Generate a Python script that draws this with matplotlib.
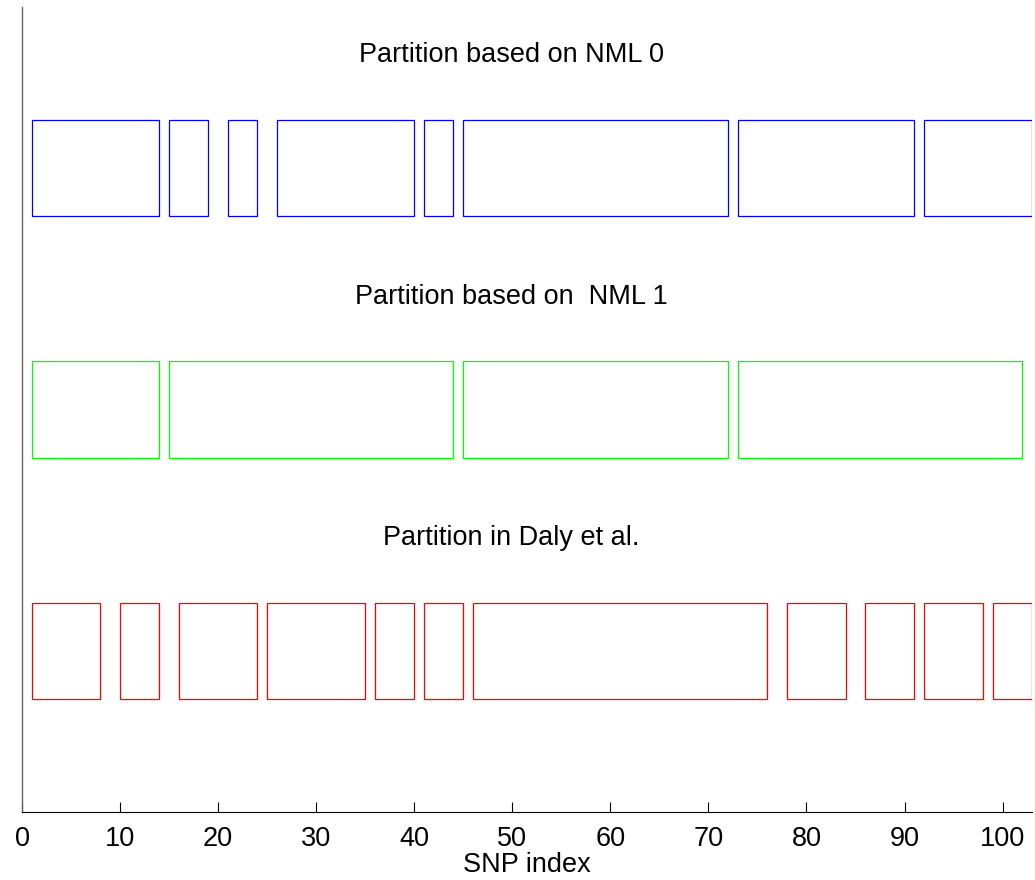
import matplotlib
matplotlib.use("Agg")
import matplotlib.pyplot as plt
from matplotlib.patches import Rectangle

plt.rcParams['font.family'] = ['Liberation Sans', 'DejaVu Sans']

# Haplotype block boundaries (first SNP, last SNP) for each partition
nml0_blocks = [(1, 14), (15, 19), (21, 24), (26, 40), (41, 44), (45, 72), (73, 91), (92, 103)]
nml1_blocks = [(1, 14), (15, 44), (45, 72), (73, 102)]
daly_blocks = [(1, 8), (10, 14), (16, 24), (25, 35), (36, 40), (41, 45), (46, 76),
               (78, 84), (86, 91), (92, 98), (99, 103)]

titles = ["Partition based on NML 0", "Partition based on  NML 1", "Partition in Daly et al."]
colors = ["#0000ff", "#00ff00", "#ff0000"]
row_centers = [8.0, 5.0, 2.0]
partitions = [nml0_blocks, nml1_blocks, daly_blocks]

xticks = [0, 10, 20, 30, 40, 50, 60, 70, 80, 90, 100]

fig = plt.figure(figsize=(10.35, 8.8), dpi=100)
ax = fig.add_axes([22 / 1035, 68 / 880, 1010 / 1035, 805 / 880])

box_h = 1.2
for blocks, title, color, yc in zip(partitions, titles, colors, row_centers):
    for start, end in blocks:
        ax.add_patch(Rectangle((start, yc - box_h / 2), end - start, box_h,
                               fill=False, edgecolor=color, linewidth=0.9))
    ax.text(49.9, yc + 1.4, title, ha='center', va='center', fontsize=19.5)

ax.set_xlim(0, 103)
ax.set_ylim(0, 10)
ax.set_xticks(xticks)
ax.set_yticks([])
ax.tick_params(axis='x', direction='in', length=7, width=0.8, labelsize=19.5, pad=10)
ax.set_xlabel("SNP index", fontsize=19.5, labelpad=0)

for side in ('top', 'right'):
    ax.spines[side].set_visible(False)
ax.spines['left'].set_color('#666666')
ax.spines['left'].set_linewidth(1.0)
ax.spines['bottom'].set_color('black')
ax.spines['bottom'].set_linewidth(0.8)

fig.savefig("out.png", dpi=100, facecolor='white')
